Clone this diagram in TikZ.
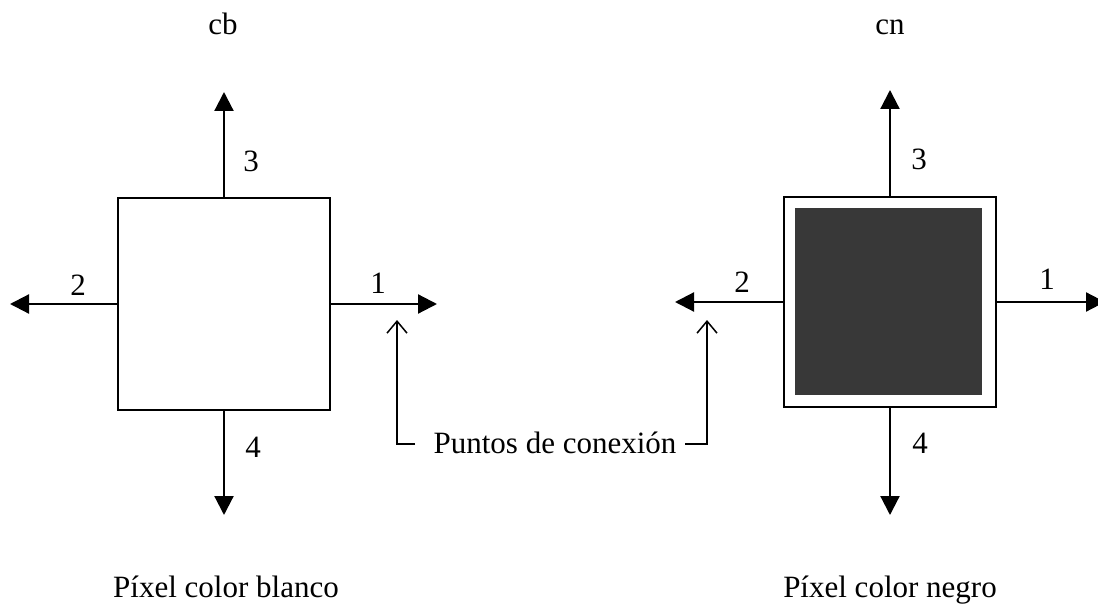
\documentclass[tikz,border=0pt]{standalone}
\usepackage{fontspec}
\setmainfont{Liberation Serif}
\usetikzlibrary{arrows.meta}
\begin{document}
\begin{tikzpicture}[x=1pt,y=-1pt,
  txt/.style={font=\fontsize{31}{36}\selectfont, inner sep=0pt, anchor=base},
  pixbox/.style={draw, line width=2pt, inner sep=0pt, minimum width=212pt, minimum height=212pt},
  arr/.style={line width=2.2pt, -{Triangle[length=19pt,width=19pt]}},
  ptr/.style={line width=1.5pt, -{Straight Barb[length=12pt,width=20pt,line width=1.5pt]}}]
\useasboundingbox (0,0) rectangle (1098,604);
% white pixel
\node[pixbox] (wb) at (224,304) {};
\coordinate (wb3) at (224,92);
\coordinate (wb4) at (224,515);
\coordinate (wb2) at (10,304);
\coordinate (wb1) at (437,304);
\draw[arr] (wb.north) -- (wb3);
\draw[arr] (wb.south) -- (wb4);
\draw[arr] (wb.west) -- (wb2);
\draw[arr] (wb.east) -- (wb1);
\node[txt] (wbl3) at (251,172) {3};
\node[txt] (wbl2) at (78,295) {2};
\node[txt] (wbl1) at (378,293) {1};
\node[txt] (wbl4) at (253,457) {4};
\node[txt] (cb) at (223,35) {cb};
\node[txt] (wbt) at (226,597) {Píxel color blanco};
% black pixel
\node[pixbox, minimum height=210pt] (nb) at (890,302) {};
\node[fill=black!78, inner sep=0pt, minimum width=187pt, minimum height=187pt] (nbin) at (888.5,301.5) {};
\coordinate (nb3) at (890,90);
\coordinate (nb4) at (890,515);
\coordinate (nb2) at (675,302);
\coordinate (nb1) at (1105,302);
\draw[arr] (nb.north) -- (nb3);
\draw[arr] (nb.south) -- (nb4);
\draw[arr] (nb.west) -- (nb2);
\draw[arr] (nb.east) -- (nb1);
\node[txt] (nbl3) at (919,170) {3};
\node[txt] (nbl2) at (742,292) {2};
\node[txt] (nbl1) at (1047,290) {1};
\node[txt] (nbl4) at (920,453) {4};
\node[txt] (cn) at (890,35) {cn};
\node[txt] (nbt) at (890,597) {Píxel color negro};
% connection points
\node[txt] (pc) at (555,453) {Puntos de conexión};
\coordinate (pcl) at (415,444);
\coordinate (pcr) at (685,444);
\coordinate (tipl) at (397,320);
\coordinate (tipr) at (707,320);
\draw[ptr] (pcl) -| (tipl);
\draw[ptr] (pcr) -| (tipr);
\end{tikzpicture}
\end{document}
